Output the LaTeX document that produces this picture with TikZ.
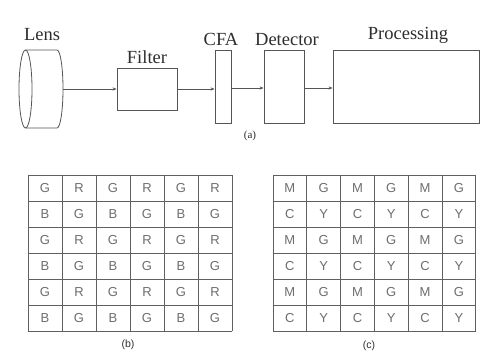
\documentclass[tikz,border=0pt]{standalone}
\usepackage{fontspec}
\setmainfont{Liberation Serif}
\newfontfamily\gridfont{Liberation Sans}
\usetikzlibrary{arrows.meta}
\definecolor{inkc}{HTML}{2E2E2E}
\definecolor{linec}{HTML}{555555}
\definecolor{gridc}{HTML}{606060}
\definecolor{letterc}{HTML}{6E6E6E}
\tikzset{
  blockbox/.style={draw=linec, line width=0.8pt, inner sep=0pt},
  toplabel/.style={text=inkc, font=\fontsize{18.5}{20}\selectfont, inner sep=0pt},
  flow/.style={draw=linec, line width=0.7pt, -{Stealth[length=4pt,width=3.2pt]}},
  cellletter/.style={text=letterc, font=\gridfont\fontsize{13}{14}\selectfont, inner sep=0pt},
  caplabel/.style={text=inkc, inner sep=0pt},
  gridline/.style={draw=gridc, line width=0.9pt},
}
\begin{document}
\begin{tikzpicture}[x=1pt,y=-1pt]
\useasboundingbox[fill=white] (0,0) rectangle (482,353);
% lens
\draw[linec, line width=0.8pt] (25.5,89) ellipse [x radius=6.5, y radius=39];
\draw[linec, line width=0.8pt] (25.5,50) -- (57,50) arc[start angle=90, end angle=-90, x radius=6, y radius=-39] -- (25.5,128);
\coordinate (lens) at (63,89);
\node[toplabel] (lenslbl) at (42,35) {Lens};
% boxes
\node[blockbox, minimum width=60pt, minimum height=42pt] (filter) at (147,89) {};
\node[toplabel, anchor=south] (filterlbl) at (147,64) {Filter};
\node[blockbox, minimum width=16pt, minimum height=73pt] (cfa) at (223,86.5) {};
\node[toplabel, anchor=south] (cfalbl) at (221,46) {CFA};
\node[blockbox, minimum width=40pt, minimum height=73pt] (det) at (284,86.5) {};
\node[toplabel, anchor=south] (detlbl) at (287,46) {Detector};
\node[blockbox, minimum width=146pt, minimum height=73pt] (proc) at (406,86.5) {};
\node[toplabel, anchor=south] (proclbl) at (408,44) {Processing};
\node[caplabel, font=\fontsize{11}{12}\selectfont] (capa) at (250,136) {(a)};
% connectors
\draw[flow] (lens) -- (filter.west);
\draw[flow] (filter.east) -- (filter.east -| cfa.west);
\draw[flow] (cfa.east |- 0,88) coordinate (c1) -- (c1 -| det.west);
\draw[flow] (det.east |- 0,88) coordinate (c2) -- (c2 -| proc.west);
% grids (b) and (c)
\foreach \r in {0,...,5}{
  \foreach \c in {0,...,5}{
    \pgfmathsetmacro{\parity}{int(mod(\r+\c,2))}
    \pgfmathsetmacro{\rowodd}{int(mod(\r,2))}
    \ifnum\rowodd=0
      \ifnum\parity=0 \def\lb{G}\def\lc{M}\else \def\lb{R}\def\lc{G}\fi
    \else
      \ifnum\parity=1 \def\lb{B}\def\lc{C}\else \def\lb{G}\def\lc{Y}\fi
    \fi
    \node[cellletter] (b-\r-\c) at (28+17+34*\c, 175+13+26*\r) {\lb};
    \node[cellletter] (c-\r-\c) at (273+16.9+33.8*\c, 175+13+26*\r) {\lc};
  }
}
\foreach \i in {0,...,6}{
  \draw[gridline] (28+34*\i,175) -- (28+34*\i,331);
  \draw[gridline] (28,175+26*\i) -- (232,175+26*\i);
  \draw[gridline] (273+33.8*\i,175) -- (273+33.8*\i,331);
  \draw[gridline] (273,175+26*\i) -- (475.8,175+26*\i);
}
\node[caplabel, font=\gridfont\fontsize{10.5}{12}\selectfont] (capb) at (128,345) {(b)};
\node[caplabel, font=\gridfont\fontsize{10.5}{12}\selectfont] (capc) at (369,346) {(c)};
\end{tikzpicture}
\end{document}
